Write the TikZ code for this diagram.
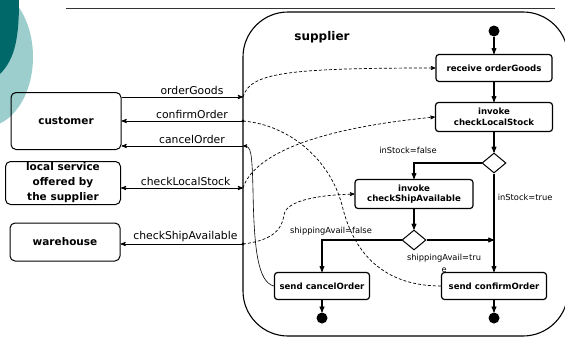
\documentclass[tikz,border=0pt]{standalone}
\usepackage{fontspec}
\setmainfont{DejaVu Sans}
\usepackage{tikz}
\usetikzlibrary{arrows}
\usetikzlibrary{shapes.geometric}
\usetikzlibrary{positioning}
\definecolor{tealdark}{RGB}{0,104,104}
\definecolor{teallight}{RGB}{156,206,206}
\tikzset{
  actor/.style={draw, rounded corners=5pt, line width=1pt,
    font=\bfseries\fontsize{10.5}{15}\selectfont, align=center,
    minimum width=110pt},
  activity/.style={draw, rounded corners=3pt, line width=1.2pt,
    font=\bfseries\fontsize{8.6}{10.5}\selectfont, align=center,
    inner sep=2pt},
  choice/.style={diamond, draw, line width=1pt, minimum width=24pt,
    minimum height=20pt, inner sep=0pt},
  blob/.style={circle, fill, minimum size=11pt, inner sep=0pt},
  flow/.style={line width=1.1pt},
  message/.style={line width=0.9pt},
  msg/.style={font=\fontsize{10.8}{13}\selectfont, inner sep=1.5pt},
  guard/.style={font=\fontsize{8.3}{12}\selectfont, align=center},
  dep/.style={dashed, line width=0.7pt, dash pattern=on 3pt off 2pt}
}

\begin{document}
\begin{tikzpicture}[x=1pt, y=-1pt,
      >=stealth',
      auto,
      on grid]

    \useasboundingbox (0,0) rectangle (565,338);

    % slide decoration
    \fill[teallight] (-15,57) ellipse [x radius=48, y radius=70];
    \fill[tealdark] (0,0) -- (19,0) .. controls (19,35) and (16,58) .. (0,74) -- cycle;
    \draw[line width=0.8pt, black!80] (66,8) -- (555,8);

    % swimlane of the supplier
    \node[draw, line width=1.1pt, rounded corners=45pt,
          minimum width=325pt, minimum height=324pt]
      (Supplier) at (405.5,174) {};
    \node[font=\bfseries\fontsize{12}{14}\selectfont]
      (SupplierName) at (322,37) {supplier};

    % partners
    \node[actor, minimum height=57pt]
      (Customer) at (66,121) {customer};
    \node[actor, minimum width=115pt, minimum height=43pt, inner sep=0pt]
      (Local) at (63,183) {local service\\offered by\\the supplier};
    \node[actor, minimum height=38pt]
      (Warehouse) at (65,242) {warehouse};

    % ports on the lane border
    \coordinate (OrderPort) at (243,97);
    \coordinate (ConfirmPort) at (243,121);
    \coordinate (CancelPort) at (243,146);
    \coordinate (LocalPort) at (243,188);
    \coordinate (ShipPort) at (243,244);

    % activities
    \node[blob]
      (Start) at (494,31) {};
    \node[activity, minimum width=116pt, minimum height=27pt]
      (Receive) [below=37pt of Start] {receive orderGoods};
    \node[activity, minimum width=117pt, minimum height=29pt]
      (CheckLocal) [below=49pt of Receive] {invoke\\checkLocalStock};
    \node[choice]
      (InStock) [below=46pt of CheckLocal] {};
    \node[activity, minimum width=118pt, minimum height=29pt]
      (CheckShip) at (414,194) {invoke\\checkShipAvailable};
    \node[choice]
      (ShipAvail) [below=46pt of CheckShip] {};
    \node[activity, minimum width=105pt, minimum height=27pt]
      (Confirm) [below=123pt of InStock] {send confirmOrder};
    \node[activity, minimum width=95pt, minimum height=27pt]
      (Cancel) at (322,286) {send cancelOrder};
    \node[blob]
      (EndCancel) [below=32pt of Cancel] {};
    \node[blob]
      (EndConfirm) [below=32pt of Confirm] {};

    \path[->, flow]
      (Start) edge (Receive)
      (Receive) edge (CheckLocal)
      (CheckLocal) edge (InStock)
      (CheckShip) edge (ShipAvail)
      (Cancel) edge (EndCancel)
      (Confirm) edge (EndConfirm)
      (InStock.south) edge node[guard, swap, pos=0.24, right=0pt] {inStock=true} (Confirm.north)
      (ShipAvail.east) edge node[guard, below, pos=0.26, yshift=-10pt] {shippingAvail=tru\\e}
        (InStock.south |- ShipAvail.east);
    \draw[->, flow] (InStock.west) -| node[guard, above, pos=0.5, xshift=-6pt, yshift=6pt] {inStock=false}
      (CheckShip.north);
    \draw[->, flow] (ShipAvail.west) -| node[guard, above, pos=0.5, xshift=9pt, yshift=1pt] {shippingAvail=false}
      (Cancel.north);

    % messages
    \path[->, message]
      (Customer.east |- OrderPort) edge node[msg, pos=0.58] {orderGoods} (OrderPort)
      (Customer.east |- ConfirmPort) edge[<-] node[msg, pos=0.58] {confirmOrder} (ConfirmPort)
      (Customer.east |- CancelPort) edge[<-] node[msg, pos=0.58] {cancelOrder} (CancelPort)
      (Local.east |- LocalPort) edge[<->] node[msg, pos=0.53] {checkLocalStock} (LocalPort)
      (Warehouse.east |- ShipPort) edge[<-] node[msg, pos=0.53] {checkShipAvailable} (ShipPort);
    \fill (ConfirmPort) circle (1.7);
    \fill (ShipPort) circle (1.7);

    % links between messages and activities
    \draw[->, dep] (OrderPort) .. controls (250,73) and (285,68) .. (Receive.west);
    \draw[->, dep] (LocalPort) .. controls (252,160) and (300,130) .. (CheckLocal.west);
    \draw[->, dep] (ShipPort) .. controls (275,240) and (282,228) .. (284,215)
      .. controls (286,200) and (320,195) .. (CheckShip.west);
    \draw[dep] (ConfirmPort) .. controls (290,125) and (330,160) .. (342,205)
      .. controls (355,260) and (390,286) .. (Confirm.west);
    \draw[->, line width=0.6pt] (Cancel.west) .. controls (258,282) and (254,250) .. (253,190)
      .. controls (252,152) and (251,146) .. (CancelPort);

  \end{tikzpicture}
\end{document}
